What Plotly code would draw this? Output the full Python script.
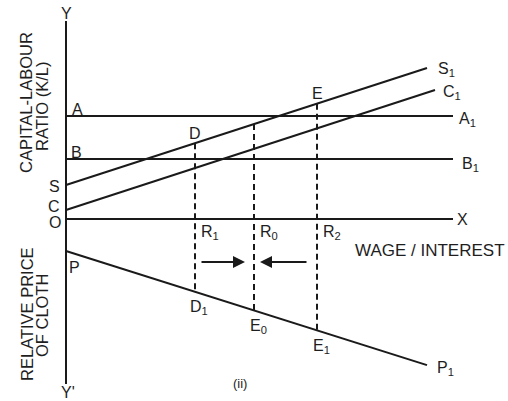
import plotly.graph_objects as go

# Horizontal axis: wage / interest ratio; vertical: K/L above O, relative price of cloth below O
x_max = 387            # length of the horizontal lines A-A1, B-B1, O-X
y_top = 198            # top of the Y axis
y_bottom = -165        # bottom of the Y' axis

kl_A = 103             # capital-labour ratio of line A-A1
kl_B = 60              # capital-labour ratio of line B-B1

s_intercept, s_slope, s_end = 34, 0.324, 361     # S-S1
c_intercept, c_slope, c_end = 9, 0.325, 369      # C-C1
p_intercept, p_slope, p_end = -32, -0.316, 361   # P-P1

r_names = ["R1", "R0", "R2"]
r_values = [129, 188, 251]
top_names = ["D", None, "E"]
bottom_names = ["D1", "E0", "E1"]

LINE = "#1a1a1a"
TEXT = "#1e1e1e"
FONT = "Liberation Sans, Arial, sans-serif"


def s_line(x):
    return s_intercept + s_slope * x


def c_line(x):
    return c_intercept + c_slope * x


def p_line(x):
    return p_intercept + p_slope * x


fig = go.Figure()


def seg(x0, y0, x1, y1, dash="solid", width=2.0):
    fig.add_trace(go.Scatter(x=[x0, x1], y=[y0, y1], mode="lines",
                             line=dict(color=LINE, width=width, dash=dash),
                             hoverinfo="skip", showlegend=False))


# axes
seg(0, y_top, 0, y_bottom)
seg(0, 0, x_max, 0)
# horizontal K/L lines
seg(0, kl_A, x_max, kl_A)
seg(0, kl_B, x_max, kl_B)
# S, C and P schedules
seg(0, s_line(0), s_end, s_line(s_end))
seg(0, c_line(0), c_end, c_line(c_end))
seg(0, p_line(0), p_end, p_line(p_end))
# dashed verticals from S-S1 down to P-P1
for r in r_values:
    seg(r, s_line(r), r, p_line(r), dash="6px,4px", width=2.0)


def label(text, px, py, size=16, **kw):
    fig.add_annotation(x=px, y=py, text=text, showarrow=False,
                       font=dict(family=FONT, size=size, color=TEXT),
                       xanchor="center", yanchor="middle", **kw)


def sub(a, b):
    return f"{a}<sub>{b}</sub>"


label("Y", 0, 206)
label("Y'", 2, -173)
label("A", 11, 110)
label("B", 10, 67)
label("S", -12, 33)
label("C", -12, 13)
label("O", -11, -3)
label("P", 8, -48)
label("X", 396, 0)
label(sub("A", 1), 401, 100)
label(sub("B", 1), 404, 55)
label(sub("S", 1), 380, 150)
label(sub("C", 1), 386, 127)
label(sub("P", 1), 379, -149)

for name, r in zip(top_names, r_values):
    if name:
        label(name, r, s_line(r) + 10)
for name, r in zip(r_names, r_values):
    label(sub(name[0], name[1]), r + 15, -13)
for name, r in zip(bottom_names, r_values):
    label(sub(name[0], name[1]), r + 4, p_line(r) - 16)

label("WAGE / INTEREST", 364, -31, size=17)
label("(ii)", 174, -164, size=13)

# axis titles (rotated)
label("CAPITAL-LABOUR", -40, 116, size=16.5, textangle=-90)
label("RATIO (K/L)", -24, 113, size=16.5, textangle=-90)
label("RELATIVE PRICE", -39, -95, size=16.5, textangle=-90)
label("OF CLOTH", -24, -97, size=16.5, textangle=-90)

# adjustment arrows toward R0
arrow_y = -43
for start, end in [(134, 179), (242, 194)]:
    fig.add_annotation(x=end, y=arrow_y, ax=start, ay=arrow_y,
                       xref="x", yref="y", axref="x", ayref="y",
                       showarrow=True, arrowhead=2, arrowsize=1.2,
                       arrowwidth=2, arrowcolor=LINE, text="")

fig.update_layout(
    width=508, height=401,
    margin=dict(l=0, r=0, t=0, b=0),
    paper_bgcolor="white", plot_bgcolor="white",
    xaxis=dict(range=[-66, 442], visible=False, fixedrange=True),
    yaxis=dict(range=[-182, 219], visible=False, fixedrange=True),
    showlegend=False,
)

fig.write_html("out.html")
